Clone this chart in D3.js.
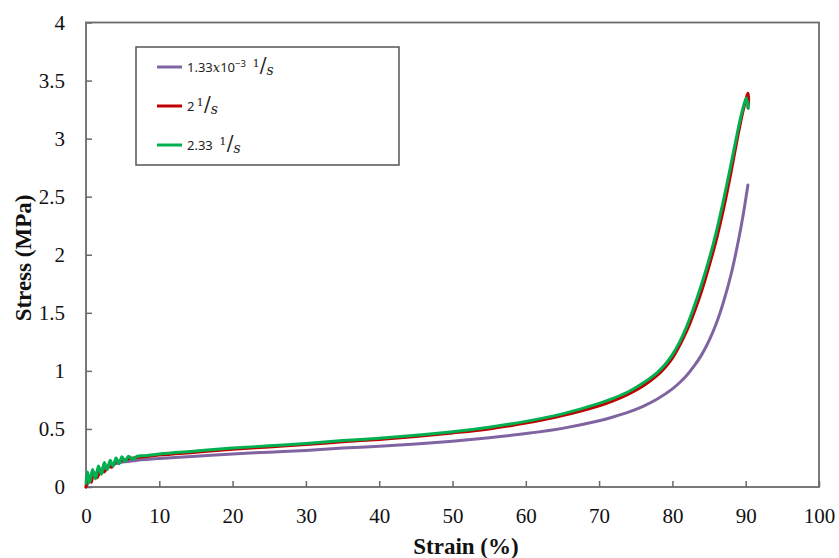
<!DOCTYPE html>
<html>
<head>
<meta charset="utf-8">
<script src="https://cdn.jsdelivr.net/npm/d3@7"></script>
<style>
  html, body { margin: 0; padding: 0; background: #fff; }
  svg { display: block; }
</style>
</head>
<body>
<svg id="chart" width="839" height="558"></svg>
<script>
// Stress–strain curves at three strain rates
const xTicks = [0, 10, 20, 30, 40, 50, 60, 70, 80, 90, 100];
const yTicks = [0, 0.5, 1, 1.5, 2, 2.5, 3, 3.5, 4];
const yTickLabels = ["0", "0.5", "1", "1.5", "2", "2.5", "3", "3.5", "4"];

// [strain %, stress MPa]
const rateSlow = [
  [0, 0], [0.5, 0.06], [1, 0.1], [2, 0.15], [3, 0.18], [4, 0.2], [5, 0.215],
  [7, 0.23], [10, 0.245], [15, 0.265], [20, 0.285], [25, 0.3], [30, 0.315],
  [35, 0.335], [40, 0.35], [45, 0.37], [50, 0.395], [55, 0.425], [60, 0.46],
  [65, 0.505], [70, 0.57], [72, 0.605], [74, 0.645], [76, 0.695], [78, 0.76],
  [80, 0.845], [81, 0.9], [82, 0.965], [83, 1.045], [84, 1.14], [85, 1.26],
  [86, 1.41], [87, 1.6], [88, 1.83], [89, 2.12], [89.7, 2.36], [90.3, 2.6]
];
const rate2 = [
  [0, 0], [0.3, 0.08], [0.7, 0.04], [1, 0.1], [1.5, 0.08], [2, 0.14], [2.5, 0.13],
  [3, 0.18], [3.5, 0.17], [4, 0.21], [5, 0.23], [6, 0.245], [8, 0.26], [10, 0.275],
  [15, 0.3], [20, 0.325], [25, 0.345], [30, 0.365], [35, 0.39], [40, 0.41],
  [45, 0.435], [50, 0.465], [55, 0.5], [60, 0.55], [65, 0.615], [70, 0.7],
  [72, 0.745], [74, 0.8], [76, 0.87], [78, 0.965], [79, 1.03], [80, 1.11],
  [81, 1.22], [82, 1.35], [83, 1.51], [84, 1.69], [85, 1.9], [86, 2.13],
  [87, 2.4], [88, 2.71], [88.8, 2.98], [89.5, 3.2], [90, 3.33], [90.3, 3.39],
  [90.4, 3.33], [90.3, 3.27]
];
const rate233 = [
  [0, 0.03], [0.2, 0.13], [0.5, 0.04], [0.9, 0.15], [1.3, 0.07], [1.7, 0.18],
  [2.1, 0.11], [2.5, 0.21], [2.9, 0.15], [3.3, 0.23], [3.7, 0.18], [4.1, 0.25],
  [4.5, 0.2], [4.9, 0.26], [5.3, 0.22], [5.8, 0.265], [6.3, 0.24], [7, 0.265],
  [8, 0.27], [10, 0.285], [15, 0.31], [20, 0.335], [25, 0.355], [30, 0.375],
  [35, 0.4], [40, 0.42], [45, 0.445], [50, 0.475], [55, 0.515], [60, 0.565],
  [65, 0.63], [70, 0.72], [72, 0.765], [74, 0.82], [76, 0.895], [78, 0.99],
  [79, 1.055], [80, 1.14], [81, 1.25], [82, 1.39], [83, 1.56], [84, 1.75],
  [85, 1.96], [86, 2.2], [87, 2.48], [88, 2.78], [88.7, 3.0], [89.3, 3.18],
  [89.8, 3.3], [90.1, 3.35], [90.2, 3.3], [90.3, 3.32], [90.35, 3.26]
];

const seriesColors = ["#8064a2", "#c00000", "#00b050"];
const seriesData = [rateSlow, rate2, rate233];

const svg = d3.select("#chart");
const W = 839, H = 558;
const margin = { left: 86, right: W - 819, top: 22.5, bottom: H - 487 };

const x = d3.scaleLinear().domain([0, 100]).range([margin.left, W - margin.right]);
const y = d3.scaleLinear().domain([0, 4]).range([H - margin.bottom, margin.top]);

const frameColor = "#6b6b6b";
const tickFont = "Times New Roman, Liberation Serif, DejaVu Serif, serif";

// x axis (ticks point inward)
const gx = svg.append("g")
  .attr("transform", `translate(0,${y(0)})`)
  .call(d3.axisBottom(x).tickValues(xTicks).tickFormat(d3.format("d"))
    .tickSizeInner(-6).tickSizeOuter(0).tickPadding(21));
gx.attr("font-family", null).attr("font-size", null);
gx.select(".domain").remove();
gx.selectAll("line").attr("stroke", frameColor).attr("stroke-width", 1.5);
gx.selectAll("text").style("font-family", tickFont).style("font-size", "21px").attr("fill", "#111");

// y axis
const gy = svg.append("g")
  .attr("transform", `translate(${x(0)},0)`)
  .call(d3.axisLeft(y).tickValues(yTicks).tickFormat((d, i) => yTickLabels[i])
    .tickSizeInner(-6).tickSizeOuter(0).tickPadding(21));
gy.attr("font-family", null).attr("font-size", null);
gy.select(".domain").remove();
gy.selectAll("line").attr("stroke", frameColor).attr("stroke-width", 1.5);
gy.selectAll("text").style("font-family", tickFont).style("font-size", "21px").attr("fill", "#111");

// plot frame
svg.append("rect")
  .attr("x", x(0)).attr("y", y(4))
  .attr("width", x(100) - x(0)).attr("height", y(0) - y(4))
  .attr("fill", "none").attr("stroke", frameColor).attr("stroke-width", 1.8);

// curves
const line = d3.line()
  .x(d => x(d[0])).y(d => y(d[1]))
  .curve(d3.curveCatmullRom.alpha(0.5));

svg.append("g").selectAll("path")
  .data(seriesData)
  .join("path")
  .attr("d", line)
  .attr("fill", "none")
  .attr("stroke", (d, i) => seriesColors[i])
  .attr("stroke-width", 3)
  .attr("stroke-linejoin", "round")
  .attr("stroke-linecap", "round");

// axis titles
svg.append("text")
  .attr("x", 466).attr("y", 554)
  .attr("text-anchor", "middle")
  .style("font-family", tickFont).style("font-weight", "bold").style("font-size", "23px")
  .attr("fill", "#111")
  .text("Strain (%)");

svg.append("text")
  .attr("transform", "translate(31,258) rotate(-90)")
  .attr("text-anchor", "middle")
  .style("font-family", tickFont).style("font-weight", "bold").style("font-size", "23px")
  .attr("fill", "#111")
  .text("Stress (MPa)");

// legend
const lg = svg.append("g");
lg.append("rect")
  .attr("x", 136).attr("y", 47).attr("width", 263).attr("height", 118)
  .attr("fill", "#fff").attr("stroke", "#555").attr("stroke-width", 1.5);

const legendY = [67, 106, 145];
const legendFont = "Noto Sans, DejaVu Sans, sans-serif";
const mathFont = "DejaVu Serif, Liberation Serif, serif";

seriesColors.forEach((c, i) => {
  lg.append("line")
    .attr("x1", 157).attr("x2", 182)
    .attr("y1", legendY[i]).attr("y2", legendY[i])
    .attr("stroke", c).attr("stroke-width", 3);
});

function rateUnit(t) {
  t.append("tspan").style("font-family", mathFont).style("font-size", "11.5px").attr("dy", -5).text("1");
  t.append("tspan").style("font-family", mathFont).style("font-size", "20px").attr("dy", 5).text("/");
  t.append("tspan").style("font-family", mathFont).style("font-style", "italic").style("font-size", "14px").attr("dy", 3).text("s");
}

function legendText(i) {
  return lg.append("text").attr("x", 187).attr("y", legendY[i] + 5)
    .style("font-family", legendFont).style("font-size", "13px").attr("fill", "#222");
}

// 1.33x10^-3 1/s
{
  const t = legendText(0);
  t.append("tspan").text("1.33");
  t.append("tspan").style("font-family", mathFont).style("font-style", "italic").text("x");
  t.append("tspan").text("10");
  t.append("tspan").style("font-size", "9.5px").attr("dy", -5).text("\u22123");
  t.append("tspan").attr("dy", 5).text("\u2002");
  rateUnit(t);
}
// 2 1/s
{
  const t = legendText(1);
  t.append("tspan").text("2\u2009");
  rateUnit(t);
}
// 2.33 1/s
{
  const t = legendText(2);
  t.append("tspan").text("2.33\u2002");
  rateUnit(t);
}
</script>
</body>
</html>
